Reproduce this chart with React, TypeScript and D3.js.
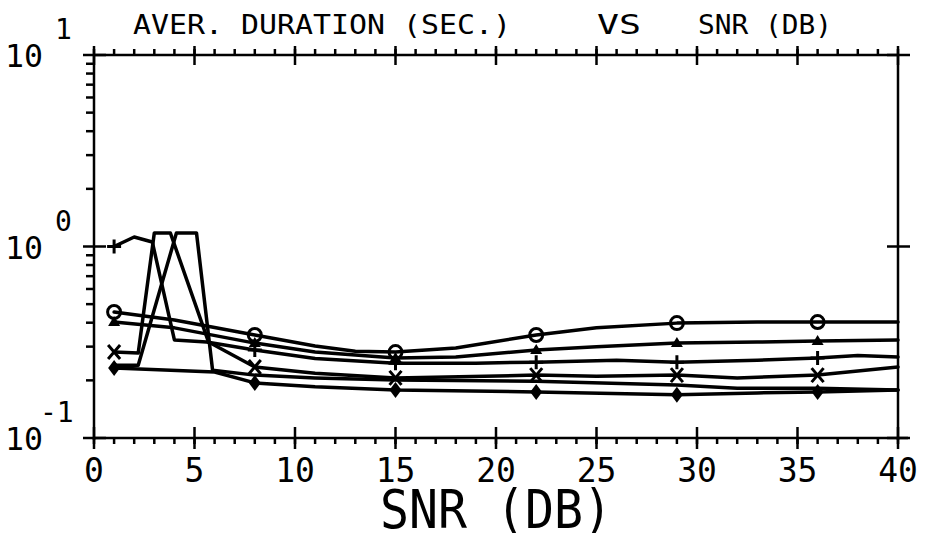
import React from "react";
import * as d3 from "d3";

const W = 926;
const H = 533;

// x axis
const xTicks = [0, 5, 10, 15, 20, 25, 30, 35, 40];
const xTickLabels = ["0", "5", "10", "15", "20", "25", "30", "35", "40"];
const xMinorTicks = d3.range(0, 41, 1);
const markerSnr = [1, 8, 15, 22, 29, 36];

// y axis (log)
const yDecades = [0.1, 1, 10];
const yDecadeExp = ["-1", "0", "1"];

// series: circle
const circleSnr = [1, 4, 8, 11, 13, 15, 18, 22, 25, 29, 33, 36, 40];
const circleVal = [0.455, 0.413, 0.345, 0.302, 0.284, 0.281, 0.295, 0.345, 0.376, 0.398, 0.403, 0.403, 0.403];
// series: triangle
const triSnr = [1, 4, 8, 11, 15, 18, 22, 25, 29, 33, 36, 40];
const triVal = [0.403, 0.376, 0.313, 0.281, 0.262, 0.265, 0.288, 0.3, 0.313, 0.317, 0.321, 0.325];
// series: plus
const plusSnr = [1, 2, 2.9, 4.0, 5.6, 8, 11, 15, 19, 22, 26, 29, 33, 36, 38, 40];
const plusVal = [1.0, 1.121, 1.056, 0.325, 0.317, 0.288, 0.26, 0.246, 0.246, 0.249, 0.255, 0.249, 0.255, 0.262, 0.27, 0.265];
// series: x
const xSnr = [1, 2.2, 3.0, 3.8, 5.7, 8, 11, 15, 22, 25, 29, 32, 36, 40];
const xVal = [0.281, 0.278, 1.176, 1.176, 0.317, 0.235, 0.218, 0.206, 0.213, 0.21, 0.213, 0.206, 0.213, 0.235];
// series: unmarked
const uSnr = [1, 2.2, 4.1, 5.1, 5.9, 8, 11, 15, 22, 29, 32, 36, 40];
const uVal = [0.24, 0.24, 1.176, 1.176, 0.226, 0.213, 0.206, 0.201, 0.198, 0.189, 0.182, 0.182, 0.178];
// series: diamond
const diaSnr = [1, 6, 8, 11, 15, 22, 29, 33, 36, 40];
const diaVal = [0.232, 0.221, 0.194, 0.185, 0.178, 0.174, 0.168, 0.172, 0.174, 0.178];

const x = d3.scaleLinear().domain([0, 40]).range([94, 898]);
const y = d3.scaleLog().domain([0.1, 10]).range([438, 55]);

const FONT = "'DejaVu Sans Mono', monospace";

type Series = { snr: number[]; val: number[]; marker: string };
const series: Series[] = [
  { snr: circleSnr, val: circleVal, marker: "circle" },
  { snr: triSnr, val: triVal, marker: "triangle" },
  { snr: plusSnr, val: plusVal, marker: "plus" },
  { snr: xSnr, val: xVal, marker: "x" },
  { snr: uSnr, val: uVal, marker: "none" },
  { snr: diaSnr, val: diaVal, marker: "diamond" },
];

function Marker({ kind, cx, cy }: { kind: string; cx: number; cy: number }) {
  const sw = 3;
  if (kind === "circle")
    return <circle cx={cx} cy={cy} r={6.5} fill="none" stroke="#000" strokeWidth={sw} />;
  if (kind === "triangle")
    return <path d={`M${cx},${cy - 6}L${cx + 6},${cy + 4}L${cx - 6},${cy + 4}Z`} fill="#000" />;
  if (kind === "plus")
    return <path d={`M${cx - 7},${cy}H${cx + 7}M${cx},${cy - 7}V${cy + 7}`} stroke="#000" strokeWidth={sw} />;
  if (kind === "x")
    return <path d={`M${cx - 6},${cy - 7}L${cx + 6},${cy + 7}M${cx + 6},${cy - 7}L${cx - 6},${cy + 7}`} stroke="#000" strokeWidth={sw} />;
  if (kind === "diamond")
    return <path d={`M${cx},${cy - 8}L${cx + 6},${cy}L${cx},${cy + 8}L${cx - 6},${cy}Z`} fill="#000" />;
  return null;
}

export default function App() {
  const line = d3
    .line<[number, number]>()
    .x((d) => x(d[0]))
    .y((d) => y(d[1]));

  const yMinor: number[] = [];
  [0.1, 1].forEach((base) => {
    for (let k = 2; k <= 9; k++) yMinor.push(base * k);
  });

  const x0 = x(0);
  const x1 = x(40);
  const yTop = y(10);
  const yBot = y(0.1);

  return (
    <svg
      width={W}
      height={H}
      viewBox={`0 0 ${W} ${H}`}
      style={{ position: "absolute", left: 0, top: 0, background: "#fff" }}
    >
      <rect x={0} y={0} width={W} height={H} fill="#fff" />
      {/* title */}
      <g fontFamily={FONT} fontSize={27} fill="#000">
        <text x={133} y={34} textLength={378} lengthAdjust="spacingAndGlyphs">AVER. DURATION (SEC.)</text>
        <text x={597} y={34} textLength={44} lengthAdjust="spacingAndGlyphs">VS</text>
        <text x={698} y={34} textLength={134} lengthAdjust="spacingAndGlyphs">SNR (DB)</text>
      </g>

      {/* frame */}
      <g stroke="#000" strokeWidth={2.5} fill="none">
        <line x1={x0} y1={yTop} x2={x1} y2={yTop} />
        <line x1={x0} y1={yBot} x2={x1 + 10} y2={yBot} />
        <line x1={x0} y1={yTop} x2={x0} y2={yBot + 2} />
        <line x1={x1} y1={yTop} x2={x1} y2={yBot + 2} />
        {/* x minor ticks */}
        {xMinorTicks.map((t) => (
          <g key={"mx" + t}>
            <line x1={x(t)} y1={yBot} x2={x(t)} y2={yBot + 6} />
            <line x1={x(t)} y1={yTop} x2={x(t)} y2={yTop - 6} />
          </g>
        ))}
        {/* x major ticks */}
        {xTicks.map((t) => (
          <g key={"Mx" + t}>
            <line x1={x(t)} y1={yBot - 11} x2={x(t)} y2={yBot + 11} />
            <line x1={x(t)} y1={yTop - 9} x2={x(t)} y2={yTop + 10} />
          </g>
        ))}
        {/* y minor ticks */}
        {yMinor.map((v) => (
          <line key={"my" + v} x1={x0 - 8} y1={y(v)} x2={x0} y2={y(v)} />
        ))}
        {/* y major ticks */}
        {yDecades.map((v) => (
          <g key={"My" + v}>
            <line x1={x0 - 11} y1={y(v)} x2={x0 + 12} y2={y(v)} />
            <line x1={x1 - 11} y1={y(v)} x2={x1 + 12} y2={y(v)} />
          </g>
        ))}
      </g>

      {/* x tick labels */}
      <g fontFamily={FONT} fontSize={33} fill="#000" textAnchor="middle">
        {xTicks.map((t, i) => (
          <text key={"xl" + t} x={x(t)} y={482}>
            {xTickLabels[i]}
          </text>
        ))}
      </g>

      {/* y tick labels */}
      <g fontFamily={FONT} fill="#000">
        {yDecades.map((v, i) => (
          <g key={"yl" + v}>
            <text x={5} y={y(v) + 12} fontSize={32} textLength={38} lengthAdjust="spacingAndGlyphs">
              10
            </text>
            <text
              x={yDecadeExp[i] === "-1" ? 40 : 55}
              y={y(v) - 16}
              fontSize={28}
            >
              {yDecadeExp[i]}
            </text>
          </g>
        ))}
      </g>

      {/* x axis title */}
      <g transform="translate(380,528) scale(1,1.25)">
        <text
          x={0}
          y={0}
          fontFamily={FONT}
          fontSize={42}
          fill="#000"
          textLength={232}
          lengthAdjust="spacingAndGlyphs"
        >
          SNR (DB)
        </text>
      </g>

      {/* series lines */}
      <g fill="none" stroke="#000" strokeWidth={3.5} strokeLinejoin="round" strokeLinecap="round">
        {series.map((s, i) => (
          <path key={"s" + i} d={line(s.snr.map((t, j) => [t, s.val[j]] as [number, number])) || ""} />
        ))}
      </g>

      {/* markers */}
      <g>
        {series.map((s, i) =>
          s.snr.map((t, j) =>
            markerSnr.includes(t) ? (
              <Marker key={"m" + i + "-" + j} kind={s.marker} cx={x(t)} cy={y(s.val[j])} />
            ) : null
          )
        )}
      </g>
    </svg>
  );
}
